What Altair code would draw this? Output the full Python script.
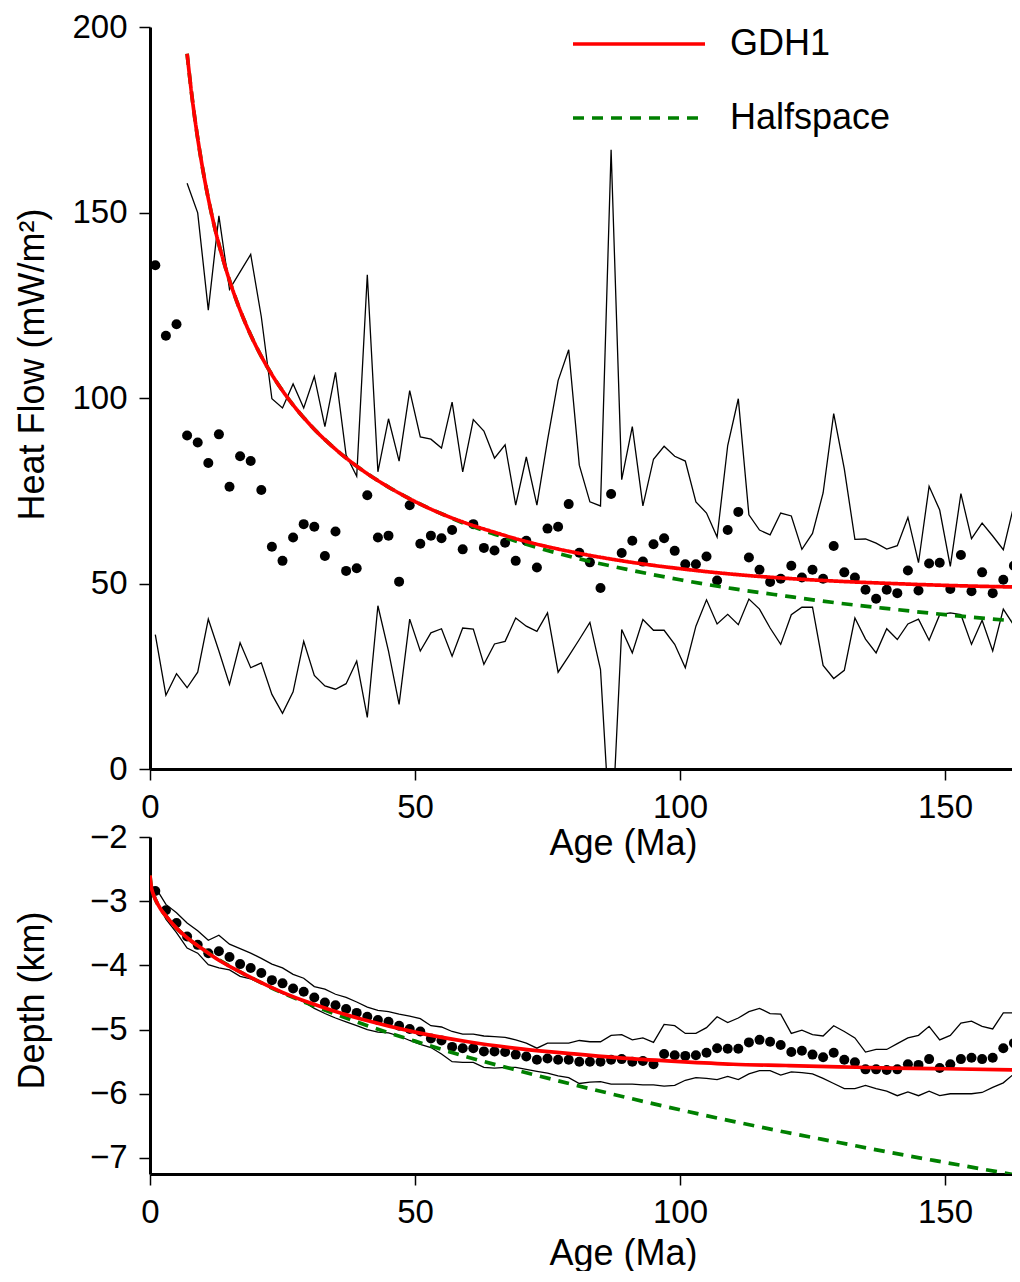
import altair as alt
import pandas as pd

# ---------------- data ----------------
ages = [1, 3, 5, 7, 9, 11, 13, 15, 17, 19,
        21, 23, 25, 27, 29, 31, 33, 35, 37, 39,
        41, 43, 45, 47, 49, 51, 53, 55, 57, 59,
        61, 63, 65, 67, 69, 71, 73, 75, 77, 79,
        81, 83, 85, 87, 89, 91, 93, 95, 97, 99,
        101, 103, 105, 107, 109, 111, 113, 115, 117, 119,
        121, 123, 125, 127, 129, 131, 133, 135, 137, 139,
        141, 143, 145, 147, 149, 151, 153, 155, 157, 159,
        161, 163, 165]

# Heat flow: binned means (dots)
hf_mean = [135.8, 116.8, 119.9, 89.9, 88.0, 82.5, 90.2, 76.1, 84.3, 83.0,
           75.2, 59.9, 56.1, 62.4, 66.0, 65.3, 57.4, 64.0, 53.4, 54.1,
           73.8, 62.4, 62.9, 50.5, 71.1, 60.7, 62.9, 62.2, 64.4, 59.2,
           66.0, 59.6, 58.9, 61.0, 56.1, 61.5, 54.3, 64.8, 65.3, 71.4,
           58.3, 55.7, 48.8, 74.1, 58.2, 61.5, 55.9, 60.6, 62.2, 58.8,
           55.2, 55.2, 57.3, 50.8, 64.4, 69.3, 57.0, 53.7, 50.4, 51.3,
           54.8, 51.6, 53.7, 51.3, 60.1, 53.0, 51.6, 48.3, 45.9, 48.3,
           47.4, 53.5, 48.1, 55.4, 55.6, 48.5, 57.7, 47.9, 53.0, 47.4,
           51.0, 54.8, 51.8]

# Heat flow: upper envelope (starts at 7 Ma)
hf_upper_ages = ages[3:]
hf_upper = [157.9, 149.9, 123.7, 149.1, 129.3, 134.0, 138.7,
            121.9, 99.8, 97.3, 103.8, 97.3, 105.8, 92.3, 106.9, 84.6, 78.9,
            133.2, 80.1, 94.4, 83.0, 102.0, 89.5, 88.9, 86.5, 98.9, 80.1,
            94.2, 91.1, 83.8, 87.4, 71.1, 84.1, 71.1, 88.6, 104.7, 113.0,
            81.9, 72.0, 70.9, 166.9, 78.0, 92.3, 70.9, 83.5, 87.0, 84.3,
            83.0, 72.0, 69.0, 62.5, 87.2, 99.8, 68.5, 64.4, 63.1, 69.0,
            68.2, 59.2, 63.5, 74.4, 95.8, 80.9, 61.9, 62.0, 60.9, 59.3,
            60.2, 67.8, 55.6, 76.2, 69.8, 54.6, 74.2, 62.1, 66.3, 62.8,
            59.1, 71.1, 62.0]

# Heat flow: lower envelope
hf_lower = [36.2, 19.9, 25.7, 21.9, 26.1, 40.4, 31.8, 22.8, 34.0, 27.3,
            28.6, 20.1, 15.0, 20.8, 34.4, 25.2, 22.4, 21.5, 23.0, 29.1,
            13.9, 44.0, 31.8, 17.4, 40.4, 31.8, 36.7, 37.8, 30.4, 38.0,
            37.7, 28.2, 33.7, 34.4, 40.7, 38.5, 37.1, 42.1, 26.1, 30.4,
            34.9, 39.5, 26.8, -22.0, 37.6, 31.3, 40.3, 37.4, 37.4, 33.6,
            27.3, 38.5, 45.6, 39.1, 41.7, 38.9, 45.8, 43.1, 38.0, 33.6,
            41.6, 43.6, 43.6, 27.9, 24.4, 26.6, 40.7, 35.0, 31.3, 37.8,
            34.9, 39.1, 40.4, 34.7, 41.6, 42.1, 41.6, 33.6, 40.1, 31.8,
            43.1, 38.7, 41.8]

# Heat flow model curves
hf_model_ages = [7, 8, 9, 10, 12, 14, 16, 18, 20, 23, 26, 30, 35, 40, 45, 50,
                 55, 60, 65, 70, 80, 90, 100, 110, 120, 130, 140, 150, 165]
hf_gdh1 = [192.8, 180.3, 170.0, 161.3, 147.2, 136.3, 127.5, 120.2, 114.0, 106.3,
           100.0, 93.1, 86.2, 80.6, 76.0, 72.1, 68.8, 66.1, 63.8, 61.7, 58.4,
           55.9, 54.0, 52.5, 51.4, 50.6, 50.0, 49.5, 49.0]
hf_half = [192.8, 180.3, 170.0, 161.3, 147.2, 136.3, 127.5, 120.2, 114.0, 106.3,
           100.0, 93.1, 86.2, 80.6, 76.0, 72.1, 68.8, 65.8, 63.3, 61.0, 57.0,
           53.8, 51.0, 48.6, 46.6, 44.7, 43.1, 41.6, 39.7]

# Depth: binned means (dots)
dp_mean = [-2.84, -3.14, -3.34, -3.55, -3.68, -3.81, -3.78, -3.87, -3.98, -4.04,
           -4.12, -4.23, -4.28, -4.36, -4.41, -4.50, -4.58, -4.62, -4.68, -4.74,
           -4.80, -4.85, -4.88, -4.94, -4.99, -5.03, -5.14, -5.17, -5.27, -5.29,
           -5.29, -5.34, -5.34, -5.35, -5.39, -5.42, -5.47, -5.45, -5.47, -5.47,
           -5.50, -5.50, -5.50, -5.47, -5.46, -5.50, -5.49, -5.54, -5.38, -5.40,
           -5.41, -5.40, -5.36, -5.29, -5.30, -5.30, -5.20, -5.16, -5.19, -5.24,
           -5.35, -5.33, -5.39, -5.43, -5.36, -5.47, -5.51, -5.62, -5.62, -5.63,
           -5.62, -5.54, -5.55, -5.46, -5.60, -5.54, -5.46, -5.44, -5.46, -5.44,
           -5.29, -5.21, -5.25]

dp_upper = [-2.78, -3.05, -3.18, -3.34, -3.46, -3.61, -3.53, -3.67, -3.74, -3.81,
            -3.89, -3.98, -4.04, -4.14, -4.20, -4.33, -4.37, -4.45, -4.50, -4.57,
            -4.65, -4.70, -4.72, -4.76, -4.79, -4.83, -4.94, -4.96, -5.03, -5.07,
            -5.07, -5.10, -5.11, -5.12, -5.16, -5.21, -5.29, -5.21, -5.21, -5.21,
            -5.17, -5.19, -5.19, -5.09, -5.08, -5.16, -5.13, -5.20, -4.92, -4.94,
            -5.06, -5.06, -4.97, -4.80, -4.89, -4.82, -4.72, -4.67, -4.75, -4.76,
            -5.06, -5.01, -5.08, -5.10, -4.94, -5.03, -5.13, -5.35, -5.31, -5.31,
            -5.22, -5.13, -5.09, -4.95, -5.16, -5.09, -4.90, -4.87, -4.95, -4.99,
            -4.74, -4.74, -4.75]

dp_lower = [-2.94, -3.28, -3.49, -3.73, -3.81, -3.99, -4.04, -4.07, -4.17, -4.21,
            -4.28, -4.36, -4.44, -4.49, -4.57, -4.67, -4.75, -4.82, -4.88, -4.94,
            -5.00, -5.04, -5.05, -5.10, -5.17, -5.23, -5.28, -5.38, -5.50, -5.51,
            -5.51, -5.59, -5.60, -5.59, -5.59, -5.62, -5.65, -5.68, -5.72, -5.75,
            -5.84, -5.82, -5.81, -5.85, -5.85, -5.85, -5.86, -5.86, -5.88, -5.87,
            -5.79, -5.75, -5.76, -5.78, -5.73, -5.78, -5.69, -5.64, -5.64, -5.71,
            -5.66, -5.67, -5.69, -5.76, -5.84, -5.92, -5.92, -5.87, -5.92, -5.96,
            -6.03, -5.97, -6.03, -5.96, -6.03, -6.00, -6.00, -6.00, -5.98, -5.90,
            -5.83, -5.69, -5.73]

dp_gdh1_ages = [0, 0.25, 0.5, 1, 2, 3, 5, 7, 10, 13, 16, 20, 25, 30, 35, 40,
                50, 60, 70, 80, 90, 100, 110, 120, 130, 140, 150, 165]
dp_gdh1 = [-2.60, -2.78, -2.86, -2.97, -3.12, -3.23, -3.42, -3.57, -3.75, -3.92,
           -4.06, -4.23, -4.42, -4.58, -4.72, -4.84, -5.04, -5.19, -5.30, -5.38,
           -5.45, -5.50, -5.54, -5.56, -5.58, -5.60, -5.61, -5.63]
dp_half_ages = [0, 0.25, 0.5, 1, 2, 3, 5, 7, 10, 15, 20, 25, 30, 40, 50, 60,
                70, 80, 90, 100, 110, 120, 130, 140, 150, 165]
dp_half = [-2.60, -2.78, -2.86, -2.97, -3.12, -3.23, -3.42, -3.57, -3.75, -4.01,
           -4.23, -4.43, -4.60, -4.91, -5.18, -5.43, -5.65, -5.86, -6.06, -6.25,
           -6.43, -6.60, -6.76, -6.92, -7.07, -7.29]

models = ["GDH1", "Halfspace"]
model_colors = ["#ff0000", "#008000"]

# ---------------- tables ----------------
hf_dots = pd.DataFrame({"age": ages, "v": hf_mean})
hf_env = pd.concat([
    pd.DataFrame({"age": hf_upper_ages, "v": hf_upper, "s": "upper"}),
    pd.DataFrame({"age": ages, "v": hf_lower, "s": "lower"}),
])
hf_mod = pd.concat([
    pd.DataFrame({"age": hf_model_ages, "v": hf_half, "model": "Halfspace"}),
    pd.DataFrame({"age": hf_model_ages, "v": hf_gdh1, "model": "GDH1"}),
])
dp_dots = pd.DataFrame({"age": ages, "v": dp_mean})
dp_env = pd.concat([
    pd.DataFrame({"age": ages, "v": dp_upper, "s": "upper"}),
    pd.DataFrame({"age": ages, "v": dp_lower, "s": "lower"}),
])
dp_g = pd.DataFrame({"age": dp_gdh1_ages, "v": dp_gdh1})
dp_h = pd.DataFrame({"age": dp_half_ages, "v": dp_half})

FONT = "Liberation Sans"
XDOM = [0, 162.64]
PLOT_W = 862

def xenc(title_y):
    return alt.X("age:Q",
                 scale=alt.Scale(domain=XDOM, nice=False, zero=False),
                 axis=alt.Axis(values=[0, 50, 100, 150], title="Age (Ma)",
                               titleX=473, titleY=title_y, titleAlign="center",
                               titleBaseline="alphabetic", labelPadding=11))

def yenc(dom, vals, title, title_y):
    return alt.Y("v:Q",
                 scale=alt.Scale(domain=dom, nice=False, zero=False),
                 axis=alt.Axis(values=vals, title=title, titleX=-107, titleY=title_y,
                               titleAngle=270, titleAlign="center",
                               titleBaseline="alphabetic", labelPadding=12))

# ---------------- top panel ----------------
X1 = xenc(85)
Y1 = yenc([0, 200], [0, 50, 100, 150, 200], "Heat Flow (mW/m²)", 337)

legend = alt.Legend(title=None, orient="none", legendX=421, legendY=-1,
                    symbolType="stroke", symbolSize=17424, symbolStrokeWidth=3.7,
                    clipHeight=36, rowPadding=38, labelFontSize=36, labelFont=FONT,
                    labelColor="black", labelOffset=23, labelLimit=400)
color = alt.Color("model:N", scale=alt.Scale(domain=models, range=model_colors), legend=legend)
dash = alt.StrokeDash("model:N", scale=alt.Scale(domain=models, range=[[1, 0], [11, 8]]), legend=legend)

top_env = alt.Chart(hf_env).mark_line(color="black", strokeWidth=1.3, clip=True).encode(
    x=X1, y=Y1, detail="s:N")
top_dots = alt.Chart(hf_dots).mark_circle(color="black", size=100, opacity=1, clip=True).encode(
    x=X1, y=Y1)
top_half = alt.Chart(hf_mod).transform_filter(alt.datum.model == "Halfspace").mark_line(
    strokeWidth=3.7, interpolate="monotone", clip=True).encode(
    x=X1, y=Y1, color=color, strokeDash=dash)
top_gdh = alt.Chart(hf_mod).transform_filter(alt.datum.model == "GDH1").mark_line(
    strokeWidth=3.7, interpolate="monotone", clip=True).encode(
    x=X1, y=Y1, color=color, strokeDash=dash)

top = alt.layer(top_env, top_dots, top_half, top_gdh).properties(width=PLOT_W, height=742)

# ---------------- bottom panel ----------------
X2 = xenc(90)
Y2 = yenc([-7.25, -2], [-7, -6, -5, -4, -3, -2], "Depth (km)", 163)

bot_env = alt.Chart(dp_env).mark_line(color="black", strokeWidth=1.3, clip=True).encode(
    x=X2, y=Y2, detail="s:N")
bot_dots = alt.Chart(dp_dots).mark_circle(color="black", size=100, opacity=1, clip=True).encode(
    x=X2, y=Y2)
bot_half = alt.Chart(dp_h).mark_line(color=model_colors[1], strokeWidth=3.7, strokeDash=[11, 8],
                                     interpolate="monotone", clip=True).encode(x=X2, y=Y2)
bot_gdh = alt.Chart(dp_g).mark_line(color=model_colors[0], strokeWidth=3.7,
                                    interpolate="monotone", clip=True).encode(x=X2, y=Y2)

bottom = alt.layer(bot_env, bot_dots, bot_half, bot_gdh).properties(width=PLOT_W, height=337)

chart = alt.vconcat(top, bottom, spacing=68, bounds="flush").properties(
    padding={"left": 6, "top": 3, "right": 0, "bottom": 0}
).configure_view(stroke=None).configure_axis(
    grid=False, domainColor="black", domainWidth=3, tickColor="black", tickWidth=1.5,
    tickSize=11, labelFont=FONT, labelFontSize=33, labelColor="black", labelFlush=False,
    titleFont=FONT, titleFontSize=36, titleFontWeight="normal", titleColor="black",
    labelOverlap=False
)

chart.save("out.html", embed_options={"renderer": "svg", "actions": False})
